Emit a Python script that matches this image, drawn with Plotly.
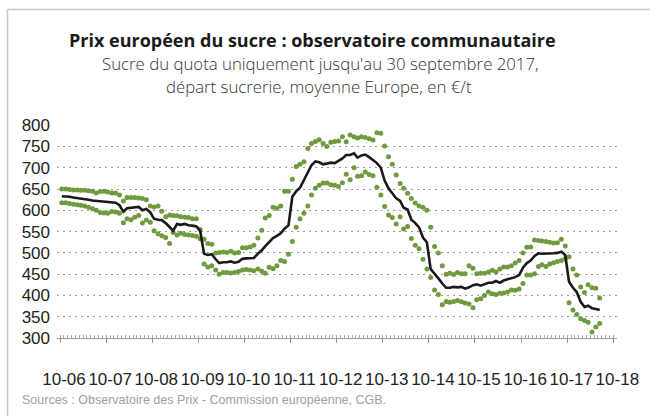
import pandas as pd
import plotly.graph_objects as go

# ---- data (monthly, Oct 2006 -> Jun 2018), €/t ----
start_month = "2006-10-01"
n_months = 141
moyenne = [
    633, 633, 632, 630, 629, 628, 627, 625, 623, 622,
    621, 620, 619, 618, 618, 612, 597, 605, 606, 607,
    608, 600, 603, 595, 580, 578, 577, 570, 560, 552,
    568, 566, 568, 565, 564, 562, 552, 498, 495, 497,
    485, 476, 478, 478, 480, 477, 479, 486, 487, 487,
    488, 498, 506, 516, 526, 535, 540, 546, 557, 565,
    632, 645, 653, 672, 692, 706, 715, 713, 708, 710,
    712, 711, 716, 722, 730, 730, 734, 724, 729, 731,
    725, 718, 711, 700, 670, 652, 640, 628, 622, 606,
    602, 578, 570, 560, 536, 525, 462, 452, 440, 428,
    418, 418, 420, 419, 420, 416, 419, 424, 426, 423,
    427, 430, 430, 434, 430, 435, 438, 441, 443, 448,
    465, 476, 482, 493, 499, 498, 498, 498, 499, 500,
    503, 495, 432, 418, 408, 385, 373, 376, 370, 368, 366,
]
maximum = [
    650, 650, 649, 648, 648, 647, 647, 646, 645, 641,
    644, 645, 643, 641, 641, 636, 622, 630, 630, 630,
    629, 628, 625, 610, 608, 610, 598, 585, 589, 588,
    587, 585, 584, 583, 580, 580, 555, 532, 522, 520,
    500, 501, 502, 501, 504, 500, 501, 512, 512, 514,
    518, 535, 553, 582, 588, 607, 605, 610, 645, 645,
    673, 703, 708, 714, 745, 757, 762, 766, 757, 750,
    760, 762, 763, 773, 761, 777, 773, 770, 773, 771,
    768, 765, 782, 781, 751, 726, 708, 683, 663, 652,
    640, 628, 617, 610, 607, 600, 560, 515, 500, 470,
    450, 452, 449, 454, 451, 451, 470, 464, 451, 452,
    452, 455, 459, 455, 462, 467, 467, 470, 476, 482,
    500, 513, 514, 530, 529, 528, 527, 525, 523, 524,
    532, 516, 491, 462, 448, 420, 407, 425, 418, 417, 394,
]
minimum = [
    618, 618, 616, 614, 613, 612, 610, 607, 604, 600,
    595, 594, 593, 597, 596, 593, 571, 580, 578, 584,
    588, 570, 577, 572, 552, 545, 540, 536, 522, 548,
    542, 546, 543, 542, 541, 539, 533, 474, 467, 470,
    460, 450, 454, 454, 453, 454, 456, 460, 461, 460,
    458, 462, 457, 452, 466, 463, 470, 482, 480, 497,
    527, 560, 580, 593, 610, 636, 652, 659, 664, 664,
    660, 659, 656, 665, 685, 672, 700, 680, 681, 690,
    684, 681, 654, 636, 609, 589, 583, 568, 585, 556,
    562, 534, 518, 510, 485, 462, 442, 413, 402, 378,
    386, 384, 386, 388, 385, 382, 380, 371, 390, 392,
    400, 408, 404, 402, 405, 406, 408, 413, 412, 415,
    428, 448, 448, 451, 468, 472, 468, 474, 477, 480,
    482, 486, 383, 366, 355, 345, 341, 337, 314, 326, 334,
]
y_ticks = [300, 350, 400, 450, 500, 550, 600, 650, 700, 750, 800]

title = "Prix européen du sucre : observatoire communautaire"
subtitle1 = "Sucre du quota uniquement jusqu'au 30 septembre 2017,"
subtitle2 = "départ sucrerie, moyenne Europe, en €/t"
source = "Sources : Observatoire des Prix - Commission européenne, CGB."

dates = pd.date_range(start_month, periods=n_months, freq="MS") + pd.Timedelta(days=14)

# ---- layout geometry (pixels) ----
W, H = 650, 416
L, R, T, B = 57, 33, 125, 78
pw, ph = W - L - R, H - T - B


def px(x):
    return (x - L) / pw


def py(y):
    return (H - B - y) / ph


green = "#6f9a3e"

fig = go.Figure()
fig.add_trace(go.Scatter(x=dates, y=maximum, mode="markers",
                         marker=dict(size=5, color=green), hoverinfo="skip"))
fig.add_trace(go.Scatter(x=dates, y=minimum, mode="markers",
                         marker=dict(size=5, color=green), hoverinfo="skip"))
fig.add_trace(go.Scatter(x=dates, y=moyenne, mode="lines",
                         line=dict(color="#1a1a1a", width=2.6), hoverinfo="skip"))

fig.update_layout(
    width=W, height=H,
    margin=dict(l=L, r=R, t=T, b=B, pad=0, autoexpand=False),
    paper_bgcolor="white", plot_bgcolor="white",
    showlegend=False,
    font=dict(family="Liberation Sans, Arial, sans-serif", color="#333333"),
)
fig.update_xaxes(
    type="date", automargin=False,
    range=["2006-09-07", "2018-10-30"],
    tick0="2006-10-01", dtick="M12", tickformat="%m-%y",
    ticks="outside", ticklen=4, tickcolor="#999999", tickwidth=1,
    showline=True, linecolor="#999999", linewidth=1,
    showgrid=False, zeroline=False,
    tickfont=dict(size=17, color="#222222"),
    ticklabelstandoff=22, ticklabelshift=4,
    minor=dict(dtick="M1", tick0="2006-10-01", ticks="inside", ticklen=3,
               tickcolor="#aaaaaa", tickwidth=1, showgrid=False),
)
fig.update_yaxes(
    automargin=False,
    range=[300, 800.5],
    tickvals=y_ticks,
    showline=False, zeroline=False,
    showgrid=True, gridcolor="#999999", gridwidth=1, griddash="1.5px,4.5px",
    ticks="", tickfont=dict(size=17, color="#222222"),
    ticklabelstandoff=6,
)

annotations = [
    dict(text="<b>" + title + "</b>", x=px(312), y=py(40), font=dict(size=18, family="Open Sans, sans-serif", color="#1a1a1a")),
    dict(text=subtitle1, x=px(320), y=py(63), font=dict(size=16.8, family="Open Sans, sans-serif", color="#333333", weight=300)),
    dict(text=subtitle2, x=px(319), y=py(86), font=dict(size=16.8, family="Open Sans, sans-serif", color="#333333", weight=300)),
    dict(text=source, x=px(20), y=py(400), xanchor="left", font=dict(size=12.5, color="#a0a0a0")),
]
for a in annotations:
    a.setdefault("xanchor", "center")
    fig.add_annotation(xref="paper", yref="paper", yanchor="middle", showarrow=False, **a)

# frame lines (top and left)
fig.add_shape(type="line", xref="paper", yref="paper", x0=px(7.5), x1=px(650), y0=py(9.5), y1=py(9.5),
              line=dict(color="#c8c8c8", width=1.5))
fig.add_shape(type="line", xref="paper", yref="paper", x0=px(7.5), x1=px(7.5), y0=py(9.5), y1=py(416),
              line=dict(color="#c8c8c8", width=1.5))

fig.write_html(
    "out.html",
    config={"displayModeBar": False},
    post_script="document.body.style.margin='0';document.body.style.overflow='hidden';",
)
